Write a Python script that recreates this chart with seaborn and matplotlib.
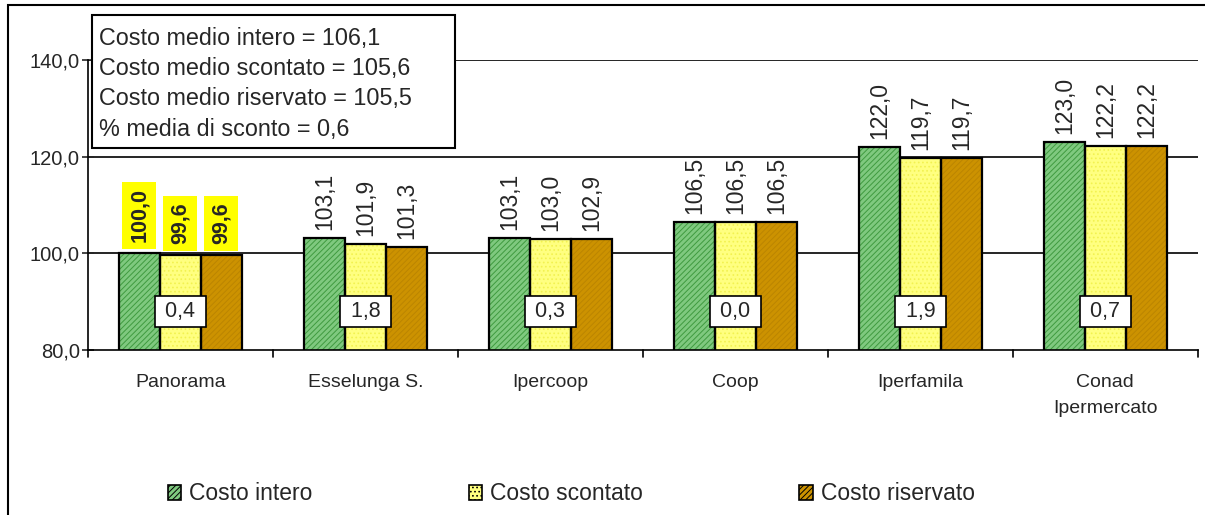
import numpy as np
import pandas as pd
import matplotlib
matplotlib.use("Agg")
import matplotlib.pyplot as plt
import seaborn as sns
from matplotlib.patches import Rectangle, Patch

# Dati
negozi = ["Panorama", "Esselunga S.", "Ipercoop", "Coop", "Iperfamila", "Conad\nIpermercato"]
serie = ["Costo intero", "Costo scontato", "Costo riservato"]
costo_intero = [100.0, 103.1, 103.1, 106.5, 122.0, 123.0]
costo_scontato = [99.6, 101.9, 103.0, 106.5, 119.7, 122.2]
costo_riservato = [99.6, 101.3, 102.9, 106.5, 119.7, 122.2]
sconto = [0.4, 1.8, 0.3, 0.0, 1.9, 0.7]
riepilogo = ["Costo medio intero = 106,1",
             "Costo medio scontato = 105,6",
             "Costo medio riservato = 105,5",
             "% media di sconto = 0,6"]

df = pd.DataFrame({
    "negozio": negozi * 3,
    "tipo": np.repeat(serie, len(negozi)),
    "valore": costo_intero + costo_scontato + costo_riservato,
})

sns.set_style("white")
plt.rcParams["font.family"] = ["Liberation Sans", "DejaVu Sans"]
plt.rcParams["hatch.linewidth"] = 0.7

facce = ["#7fc97f", "#ffff80", "#cc9200"]
tratteggi = ["//////", "....", "//////"]
colori_tratt = ["#3f9a3f", "#f2f250", "#bb8500"]

fig = plt.figure(figsize=(12.05, 5.15), dpi=100)
ax = fig.add_axes([0.073, 0.3204, 0.921, 0.563])
ax.set_axisbelow(True)

for g in [100, 120, 140]:
    ax.axhline(g, color="black", lw=1.2, zorder=0.5)

sns.barplot(data=df, x="negozio", y="valore", hue="tipo", palette=facce,
            width=0.665, ax=ax, legend=False, saturation=1, zorder=2)

def fmt(v):
    return f"{v:.1f}".replace(".", ",")

for i, cont in enumerate(ax.containers):
    for j, p in enumerate(cont.patches):
        p.set_hatch(tratteggi[i])
        p.set_edgecolor(colori_tratt[i])
        p.set_linewidth(0)
        p.set_zorder(2)
        ax.add_patch(Rectangle(p.get_xy(), p.get_width(), p.get_height(),
                               fill=False, ec="black", lw=1.6, zorder=3))
        cx = p.get_x() + p.get_width() / 2
        top = p.get_y() + p.get_height()
        if j == 0:
            ax.annotate(fmt(top), (cx, top), xytext=(0, 8), textcoords="offset points",
                        rotation=90, ha="center", va="bottom", fontsize=15.5,
                        fontweight="bold",
                        bbox=dict(boxstyle="square,pad=0.3", fc="yellow", ec="none"),
                        annotation_clip=False, zorder=5)
        else:
            ax.annotate(fmt(top), (cx, top), xytext=(0, 6), textcoords="offset points",
                        rotation=90, ha="center", va="bottom", fontsize=16.5,
                        annotation_clip=False, zorder=5)

for j, s in enumerate(sconto):
    ax.text(j, 88.0, " " + fmt(s) + " ", ha="center", va="center", fontsize=15.5, zorder=6,
            bbox=dict(boxstyle="square,pad=0.22", fc="white", ec="black", lw=1.2))

ax.set_ylim(80, 140)
ax.set_xlim(-0.5, len(negozi) - 0.5)
ax.set_yticks([80, 100, 120, 140])
ax.set_yticklabels(["80,0", "100,0", "120,0", "140,0"], fontsize=14.5)
ax.set_xticks(range(len(negozi)))
ax.set_xticklabels(negozi, fontsize=14, linespacing=1.75)
ax.tick_params(axis="x", length=0, pad=17)
ax.tick_params(axis="y", length=8, width=1.2, direction="inout", left=True, pad=2)
for k in range(len(negozi) + 1):
    ax.plot([k - 0.5, k - 0.5], [80, 78.6], color="black", lw=1.2, clip_on=False)
ax.set_xlabel("")
ax.set_ylabel("")
for s in ["top", "right"]:
    ax.spines[s].set_visible(False)
ax.spines["left"].set_color("black")
ax.spines["bottom"].set_color("black")
ax.spines["left"].set_linewidth(1.2)
ax.spines["bottom"].set_linewidth(1.2)
ax.spines["left"].set_zorder(4)
ax.spines["bottom"].set_zorder(4)

# bordo esterno
fig.patches.append(Rectangle((8 / 1205, -0.01), 1.0, 1 - 5 / 515 + 0.01, transform=fig.transFigure,
                             fill=False, ec="black", lw=1.5))

# riquadro riepilogo
fig.patches.append(Rectangle((92 / 1205, 1 - 148 / 515), 363 / 1205, 133 / 515,
                             transform=fig.transFigure, fc="white", ec="black", lw=1.5, zorder=10))
for k, riga in enumerate(riepilogo):
    fig.text(99 / 1205, 1 - (38 + 30.5 * k) / 515, riga, fontsize=16.8, va="center",
             ha="left", zorder=11)

maniglie = [Patch(fc=facce[i], hatch=tratteggi[i], ec="black", lw=1.2) for i in range(3)]
fig.legend(maniglie, serie, loc="center", bbox_to_anchor=(0.474, 1 - 494 / 515), ncol=3,
           frameon=False, fontsize=16.5, handlelength=0.6, handleheight=0.6,
           handletextpad=0.35, columnspacing=6.8)

fig.savefig("out.png", dpi=100)
